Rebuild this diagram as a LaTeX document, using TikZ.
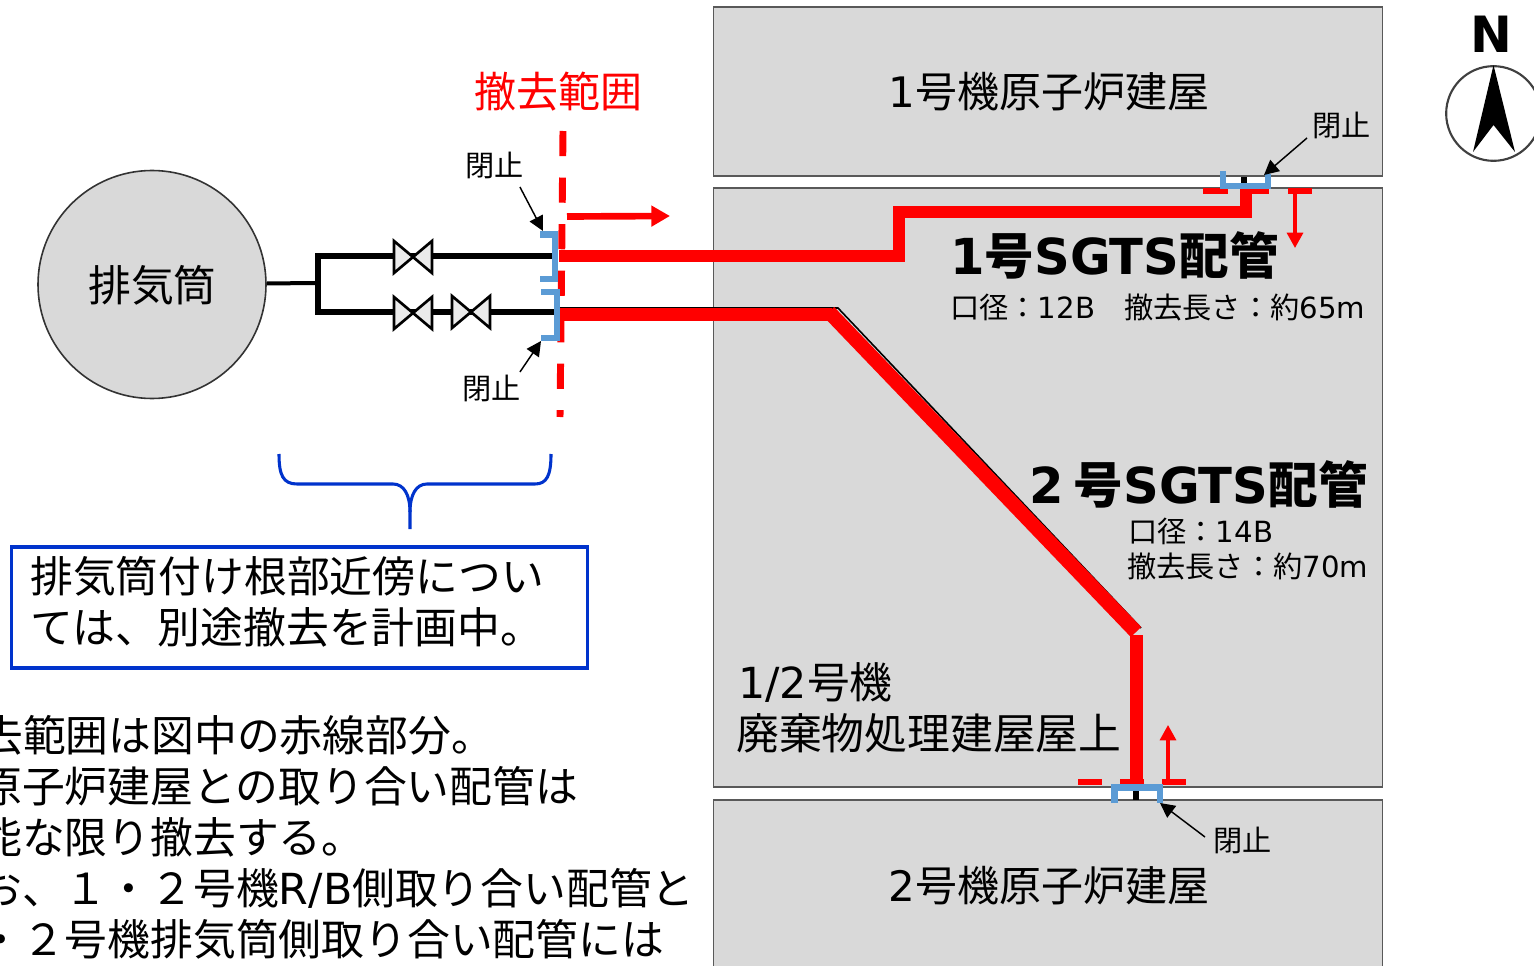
\documentclass[tikz,border=0pt]{standalone}
\usepackage{fontspec}
\setmainfont{Noto Sans CJK JP}
\newfontfamily\latinfont{DejaVu Sans}
\newcommand{\lat}[1]{{\latinfont #1}}
\usetikzlibrary{arrows.meta}
\definecolor{bldgray}{HTML}{D9D9D9}
\definecolor{capblue}{HTML}{5B9BD5}
\definecolor{notebl}{HTML}{0033CC}
\tikzset{
  building/.style={draw=black!65,line width=0.8pt,fill=bldgray},
  bigtext/.style={inner sep=0pt,anchor=base west,font=\fontsize{32.1}{38.25}\selectfont},
  nametext/.style={inner sep=0pt,anchor=base west,font=\fontsize{31.5}{38}\selectfont},
  smalltext/.style={inner sep=0pt,anchor=base west,font=\fontsize{21.9}{26}\selectfont},
  boldtext/.style={inner sep=0pt,anchor=base west,font=\fontsize{37.2}{44}\selectfont\bfseries},
  pipe/.style={line width=4.5pt,black,line join=miter},
  redpipe/.style={line width=9.4pt,red,line join=miter},
  capline/.style={line width=4.6pt,capblue},
  cutmark/.style={line width=4.6pt,red},
  redarrow/.style={line width=2.4pt,red,-{Triangle[length=11.5pt,width=12pt]}},
  callout/.style={line width=1.1pt,black,-{Triangle[length=11pt,width=11pt]}},
  valve/.pic={\draw[line width=2pt,black,fill=white!92!black] (-19,-16) -- (19,16) -- (19,-16) -- (-19,16) -- cycle;}
}
\begin{document}
\begin{tikzpicture}[x=0.75pt,y=-0.75pt]
  \useasboundingbox (0,0) rectangle (1534,966);
  \clip (0,0) rectangle (1534,966);

  \node (unitOneBld) at (1048,91.5) [building,rectangle,minimum width=501.75pt,minimum height=126.75pt] {};
  \node (wasteBld) at (1048,487.5) [building,rectangle,minimum width=501.75pt,minimum height=449.25pt] {};
  \node (unitTwoBld) at (1048,900) [building,rectangle,minimum width=501.75pt,minimum height=150pt] {};

  \node (unitOneName) at (888,108) [nametext] {\lat{1}号機原子炉建屋};
  \node (unitTwoName) at (888,901) [nametext] {\lat{2}号機原子炉建屋};
  \node (wasteNameA) at (738,698) [bigtext] {\lat{1/2}号機};
  \node (wasteNameB) at (736,749) [bigtext] {廃棄物処理建屋屋上};

  \node (stack) at (152,284.5) [circle,draw=black!80,line width=1.2pt,fill=bldgray,minimum size=171pt,inner sep=0pt] {};
  \node (stackName) at (88,301) [bigtext] {排気筒};

  \coordinate (branch) at (318,283);
  \coordinate (branchTop) at (318,256);
  \coordinate (branchBot) at (318,312);
  \coordinate (valveA) at (413,257);
  \coordinate (valveB) at (413,313);
  \coordinate (valveC) at (471,312);
  \coordinate (capTop) at (555,256);
  \coordinate (capBot) at (556,312);

  \draw[line width=3pt,black] (stack) -- (branch);
  \draw[pipe] (capTop) -- (branchTop) -- (branchBot) -- (capBot);
  \path (valveA) pic {valve};
  \path (valveB) pic {valve};
  \path (valveC) pic {valve};

  \draw[red,line width=5.2pt,dash pattern=on 18.9pt off 16pt] (563,131) -- (560,417);
  \node (rangeName) at (474,108) [nametext,red] {撤去範囲};
  \coordinate (rangeFrom) at (567,216.5);
  \coordinate (rangeTo) at (670,216);
  \draw[line width=5pt,red,-{Triangle[length=14pt,width=15pt]}] (rangeFrom) -- (rangeTo);

  \draw[line width=1.2pt,black] (560,308) -- (838,308) -- (1141,628);
  \draw[redpipe] (559,256) -- (899,256) -- (899,212) -- (1246,212) -- (1246,188);
  \draw[redpipe] (560,314.5) -- (832,314.5);
  \draw[red,line width=10.8pt] (829,312) -- (1136,632);
  \draw[redpipe] (1136.5,635) -- (1136.5,782);

  \draw[cutmark] (1203,191) -- (1228,191);
  \draw[cutmark] (1246,191) -- (1269,191);
  \draw[cutmark] (1288,191) -- (1312,191);
  \draw[redarrow] (1295,191) -- (1295,248);
  \draw[cutmark] (1078,782) -- (1102,782);
  \draw[cutmark] (1120,782) -- (1144,782);
  \draw[cutmark] (1162,782) -- (1186,782);
  \draw[redarrow] (1168,782) -- (1168,725);

  \fill[black] (1241,177) rectangle (1247,183);
  \fill[black] (1133,791) rectangle (1139,800);

  \draw[capline] (540,234.5) -- (555,234.5) -- (555,279) -- (540,279);
  \draw[capline] (541,292) -- (557,292) -- (557,338) -- (541,338);
  \draw[capline] (1223,171) -- (1223,186) -- (1268,186) -- (1268,174);
  \draw[capline] (1114.5,803) -- (1114.5,787.5) -- (1160,787.5) -- (1160,803);

  \node (closeA) at (465,177) [smalltext] {閉止};
  \node (closeB) at (462,399) [smalltext] {閉止};
  \node (closeC) at (1312,137) [smalltext] {閉止};
  \node (closeD) at (1213,851) [smalltext] {閉止};
  \coordinate (tipA) at (543,231);
  \coordinate (tipB) at (541,341);
  \coordinate (tipC) at (1264,175);
  \coordinate (tipD) at (1160,803);
  \draw[callout] ([shift={(-4,10)}]closeA.base east) -- (tipA);
  \draw[callout] ([shift={(-1,-27)}]closeB.base east) -- (tipB);
  \draw[callout] ([shift={(-5,1)}]closeC.base west) -- (tipC);
  \draw[callout] ([shift={(-8,-14)}]closeD.base west) -- (tipD);

  \node (sgtsOne) at (950,274) [boldtext] {\lat{1}号\lat{SGTS}配管};
  \node (sizeOne) at (950,318) [smalltext] {口径：\lat{12B}　撤去長さ：約\lat{65m}};
  \node (sgtsTwo) at (1029,503) [boldtext] {\lat{2}\hspace{0.2em}号\lat{SGTS}配管};
  \node (sizeTwoA) at (1128,542) [smalltext] {口径：\lat{14B}};
  \node (sizeTwoB) at (1127,577) [smalltext] {撤去長さ：約\lat{70m}};

  \coordinate (braceEnd) at (410,529);
  \draw[notebl,line width=2.3pt] (279,454) .. controls (279,475) and (283,484) .. (297,484) -- (393,484) .. controls (404,484) and (410,495) .. (410,512) -- (braceEnd);
  \draw[notebl,line width=2.3pt] (551,454) .. controls (551,475) and (547,484) .. (535,484) -- (427,484) .. controls (416,484) and (410,495) .. (410,512);
  \node (noteBox) at (299.5,607.5) [rectangle,draw=notebl,line width=2.6pt,minimum width=432pt,minimum height=91pt,inner sep=0pt] {};
  \node (noteA) at (30,592) [bigtext] {排気筒付け根部近傍につい};
  \node (noteB) at (30,643) [bigtext] {ては、別途撤去を計画中。};

  \node (textA) at (-20,751) [bigtext] {去範囲は図中の赤線部分。};
  \node (textB) at (-21,802) [bigtext] {原子炉建屋との取り合い配管は};
  \node (textC) at (-21,853) [bigtext] {能な限り撤去する。};
  \node (textD) at (-21,904) [bigtext] {お、１・２号機\lat{R/B}側取り合い配管と};
  \node (textE) at (-21,955) [bigtext] {・２号機排気筒側取り合い配管には};

  \node (north) at (1491.5,53) [inner sep=0pt,anchor=base,font=\fontsize{37.5}{44}\selectfont\latinfont\bfseries] {N};
  \node (compass) at (1493.5,113.5) [circle,draw=black!75,line width=1.6pt,minimum size=71pt,inner sep=0pt] {};
  \fill[black] (compass.north) -- (1515,152) -- (1493.5,125) -- (1473,152) -- cycle;
\end{tikzpicture}
\end{document}
